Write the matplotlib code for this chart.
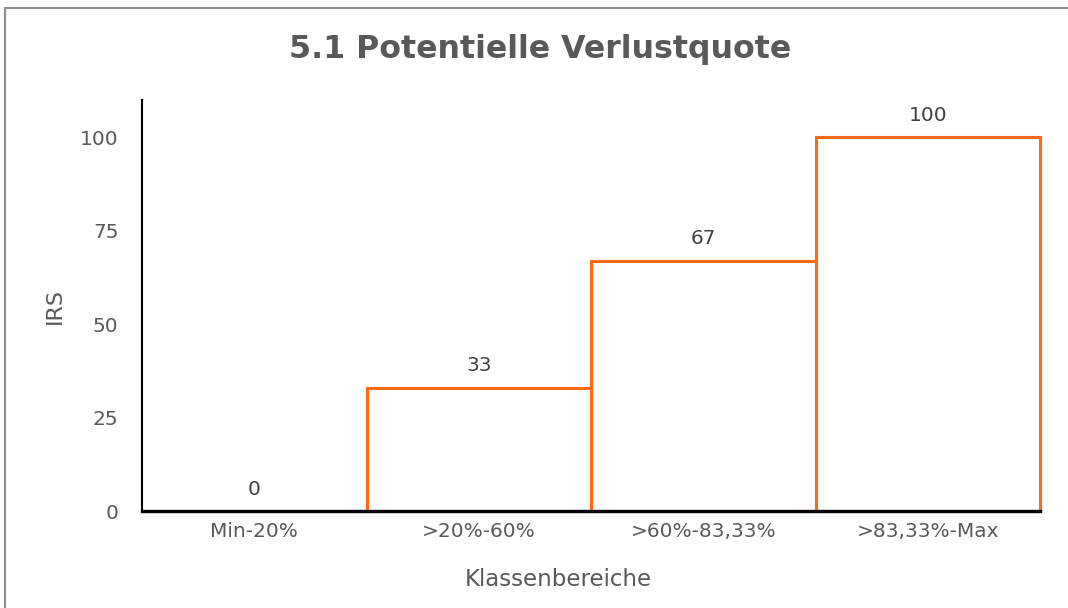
import matplotlib.pyplot as plt
from matplotlib.lines import Line2D

categories = ['Min-20%', '>20%-60%', '>60%-83,33%', '>83,33%-Max']
irs_values = [0, 33, 67, 100]
y_ticks = [0, 25, 50, 75, 100]

text_grey = '#595959'
label_grey = '#404040'
bar_orange = '#FF6A13'

fig = plt.figure(figsize=(10.68, 6.08), dpi=100)
ax = fig.add_axes([0.133, 0.1595, 0.841, 0.676])

x = range(len(categories))
bars = ax.bar(x, irs_values, width=1.0, color='white', edgecolor=bar_orange,
              linewidth=2.2, zorder=2, clip_on=False)

for xi, v in zip(x, irs_values):
    ax.annotate(str(v), (xi, v), xytext=(0, 9), textcoords='offset points',
                ha='center', va='bottom', fontsize=14.5, color=label_grey)

ax.set_xlim(-0.5, 3.5)
ax.set_ylim(0, 110)
ax.set_yticks(y_ticks)
ax.set_xticks(list(x))
ax.set_xticklabels(categories)
ax.tick_params(axis='both', length=0, labelsize=14.5, labelcolor=text_grey)
ax.tick_params(axis='y', pad=17)
ax.tick_params(axis='x', pad=8)

for s in ['top', 'right']:
    ax.spines[s].set_visible(False)
ax.spines['left'].set_color('black')
ax.spines['left'].set_linewidth(1.5)
ax.spines['bottom'].set_color('black')
ax.spines['bottom'].set_linewidth(2.4)
ax.spines['bottom'].set_zorder(3)

ax.set_ylabel('IRS', fontsize=16, color=text_grey)
ax.set_xlabel('Klassenbereiche', fontsize=16.5, color=text_grey)
ax.yaxis.set_label_coords(-0.086, 0.5)
ax.xaxis.set_label_coords(0.463, -0.138)

fig.text(0.506, 0.918, '5.1 Potentielle Verlustquote', ha='center', va='center',
         fontsize=22.8, fontweight='bold', color=text_grey)

# frame of the chart area (top and left edges visible)
fig.add_artist(Line2D([5/1068, 5/1068], [0, 1 - 8/608], transform=fig.transFigure,
                      color='#8c8c8c', linewidth=1.5))
fig.add_artist(Line2D([5/1068, 1], [1 - 8/608, 1 - 8/608], transform=fig.transFigure,
                      color='#8c8c8c', linewidth=1.5))

fig.savefig('out.png', dpi=100)
